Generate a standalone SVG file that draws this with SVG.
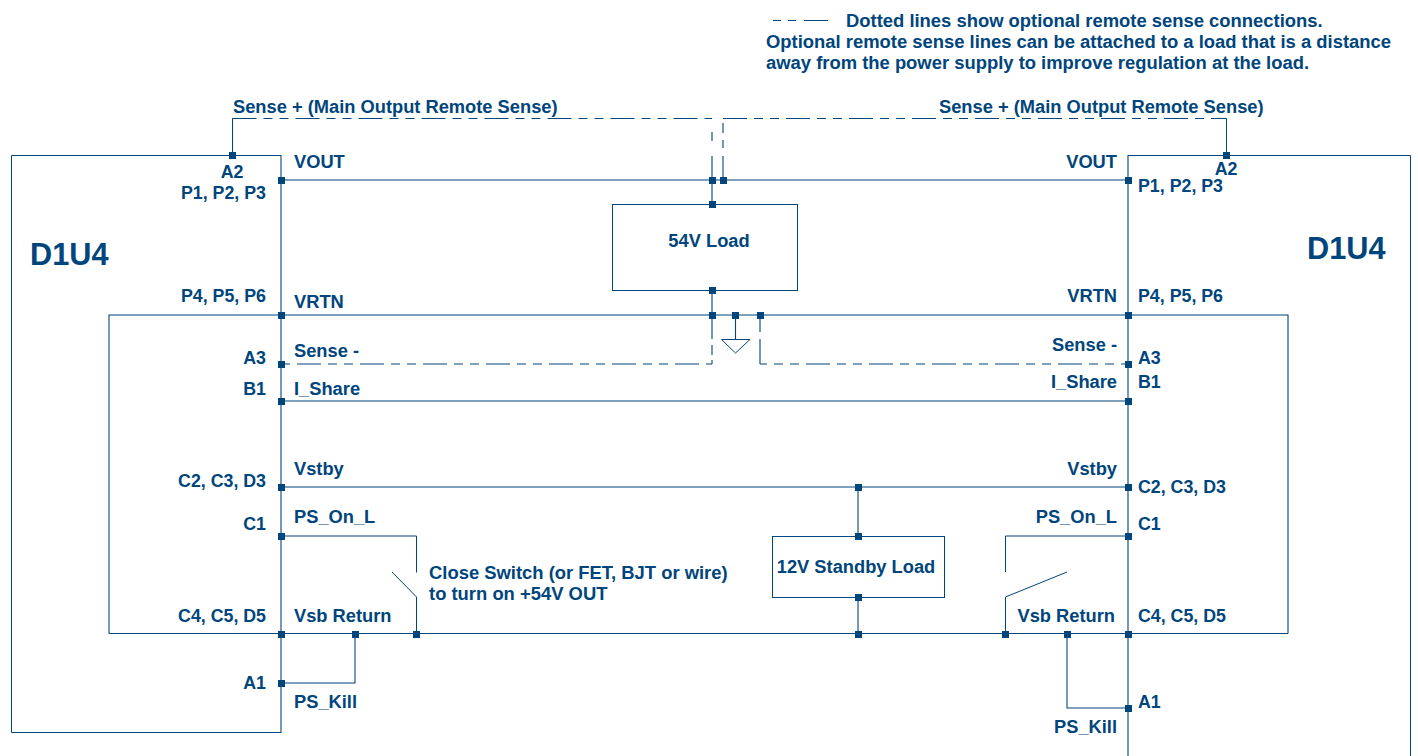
<svg xmlns="http://www.w3.org/2000/svg" width="1418" height="756" viewBox="0 0 1418 756">
<style>
text{font-family:"Liberation Sans",Arial,sans-serif;font-weight:700;font-size:18.3px;fill:#00457c}
.e{text-anchor:end}.m{text-anchor:middle}.big{font-size:30.700px}
.p{font-size:17.800px}
.l{font-size:18.420px}
.w{fill:none;stroke:#00457c;stroke-width:1}
.b{fill:none;stroke:#00457c;stroke-width:1.1}
.d{stroke-dasharray:24 7 9 7 9 7}
.box{fill:none;stroke:#00457c;stroke-width:1}
.j{fill:#00457c}
</style>
<defs><rect id="j" class="j" x="-3" y="-3" width="7" height="7"/></defs>
<rect width="1418" height="756" fill="#fff"/>
<g id="connectors">
<path class="w" d="M232.500 155V118.500H256M1226.500 155V118.500H1220"/>
<path class="w d" d="M232.500 118.500H712"/>
<path class="w d" d="M723 118.500H1226"/>
<path class="b" d="M712 132V141M712 156V204M723 123V133M723 140V148M723 156V180"/>
<path class="b" d="M281 180H1128M281 401H1128M281 487H1128"/>
<path class="b" d="M109 633.500V315H1288V633.500"/>
<path class="w" d="M109 633.500H1288"/>
<path class="b d" style="stroke-dashoffset:47" d="M281 364H712"/>
<path class="b d" style="stroke-dashoffset:17" d="M760 364H1128"/>
<path class="b" d="M712 290V339M712 345V355M712 360V364M760 315V332M760 339V364"/>
<path class="b" d="M281 536H416.500"/>
<path class="w" d="M416.500 536V572.500M392 572L416.500 597V633"/>
<path class="b" d="M281 683H355V633M1128 708H1067V633"/>
<path class="b" d="M1128 536H1005.500"/>
<path class="w" d="M1005.500 536V572M1067 572L1005.500 597V633"/>
<path class="b" d="M858 487V536M858 597V633"/>
</g>
<g id="legend">
<path class="w" d="M773 20.500H781M788 20.500H796M804 20.500H828"/>
<text class="l" x="846" y="27">Dotted lines show optional remote sense connections.</text>
<text class="l" x="766" y="48">Optional remote sense lines can be attached to a load that is a distance</text>
<text class="l" x="766" y="69">away from the power supply to improve regulation at the load.</text>
</g>
<g id="sense-plus-left"><text x="233" y="113">Sense + (Main Output Remote Sense)</text></g>
<g id="sense-plus-right"><text x="939" y="113">Sense + (Main Output Remote Sense)</text></g>
<g id="unit-left">
<path class="w" d="M281 155.500H11.500V732.500H281"/>
<path class="b" d="M281 155V733"/>
<text class="big" x="30" y="265">D1U4</text>
<text class="m p" x="232" y="178">A2</text>
<text class="e p" x="266" y="199">P1, P2, P3</text>
<text class="e p" x="266" y="302">P4, P5, P6</text>
<text class="e p" x="266" y="364">A3</text>
<text class="e p" x="266" y="395">B1</text>
<text class="e p" x="266" y="487">C2, C3, D3</text>
<text class="e p" x="266" y="530">C1</text>
<text class="e p" x="266" y="622">C4, C5, D5</text>
<text class="e p" x="266" y="689">A1</text>
<text x="294" y="168">VOUT</text>
<text x="294" y="308">VRTN</text>
<text x="294" y="357">Sense -</text>
<text x="294" y="395">I_Share</text>
<text x="294" y="475">Vstby</text>
<text x="294" y="523">PS_On_L</text>
<text x="294" y="622">Vsb Return</text>
<text x="294" y="708">PS_Kill</text>
<text class="l" x="429" y="579">Close Switch (or FET, BJT or wire)</text>
<text class="l" x="429" y="600">to turn on +54V OUT</text>
</g>
<g id="unit-right">
<path class="w" d="M1128 155.500H1410.500V756"/>
<path class="b" d="M1128 155V756"/>
<text class="big" x="1307" y="259">D1U4</text>
<text class="m p" x="1226" y="175">A2</text>
<text class="p" x="1138" y="192">P1, P2, P3</text>
<text class="p" x="1138" y="302">P4, P5, P6</text>
<text class="p" x="1138" y="364">A3</text>
<text class="p" x="1138" y="388">B1</text>
<text class="p" x="1138" y="493">C2, C3, D3</text>
<text class="p" x="1138" y="530">C1</text>
<text class="p" x="1138" y="622">C4, C5, D5</text>
<text class="p" x="1138" y="708">A1</text>
<text class="e" x="1117" y="168">VOUT</text>
<text class="e" x="1117" y="302">VRTN</text>
<text class="e" x="1117" y="351">Sense -</text>
<text class="e" x="1117" y="388">I_Share</text>
<text class="e" x="1117" y="475">Vstby</text>
<text class="e" x="1117" y="523">PS_On_L</text>
<text class="e" x="1115" y="622">Vsb Return</text>
<text class="e" x="1117" y="733">PS_Kill</text>
</g>
<g id="load-54v">
<rect class="box" x="612.500" y="204.500" width="185" height="86"/>
<text class="m" x="709" y="247">54V Load</text>
</g>
<g id="load-12v">
<rect class="box" x="772.500" y="536.500" width="172" height="61"/>
<text class="m" x="856" y="573">12V Standby Load</text>
</g>
<g id="ground">
<path class="b" d="M735.500 315V339"/>
<path class="w" d="M721.500 339.500H750L735.500 353Z"/>
</g>
<g id="junctions">
<use href="#j" x="232" y="155"/><use href="#j" x="1226" y="155"/>
<use href="#j" x="281" y="180"/><use href="#j" x="281" y="315"/><use href="#j" x="281" y="364"/><use href="#j" x="281" y="401"/><use href="#j" x="281" y="487"/><use href="#j" x="281" y="536"/><use href="#j" x="281" y="634"/><use href="#j" x="281" y="683"/>
<use href="#j" x="1128" y="180"/><use href="#j" x="1128" y="315"/><use href="#j" x="1128" y="364"/><use href="#j" x="1128" y="401"/><use href="#j" x="1128" y="487"/><use href="#j" x="1128" y="536"/><use href="#j" x="1128" y="634"/><use href="#j" x="1128" y="708"/>
<use href="#j" x="712" y="180"/><use href="#j" x="723" y="180"/><use href="#j" x="712" y="204"/><use href="#j" x="712" y="290"/><use href="#j" x="712" y="315"/><use href="#j" x="735" y="315"/><use href="#j" x="760" y="315"/>
<use href="#j" x="858" y="487"/><use href="#j" x="858" y="536"/><use href="#j" x="858" y="597"/><use href="#j" x="858" y="634"/>
<use href="#j" x="355" y="634"/><use href="#j" x="416" y="634"/><use href="#j" x="1005" y="634"/><use href="#j" x="1067" y="634"/>
</g>
</svg>
